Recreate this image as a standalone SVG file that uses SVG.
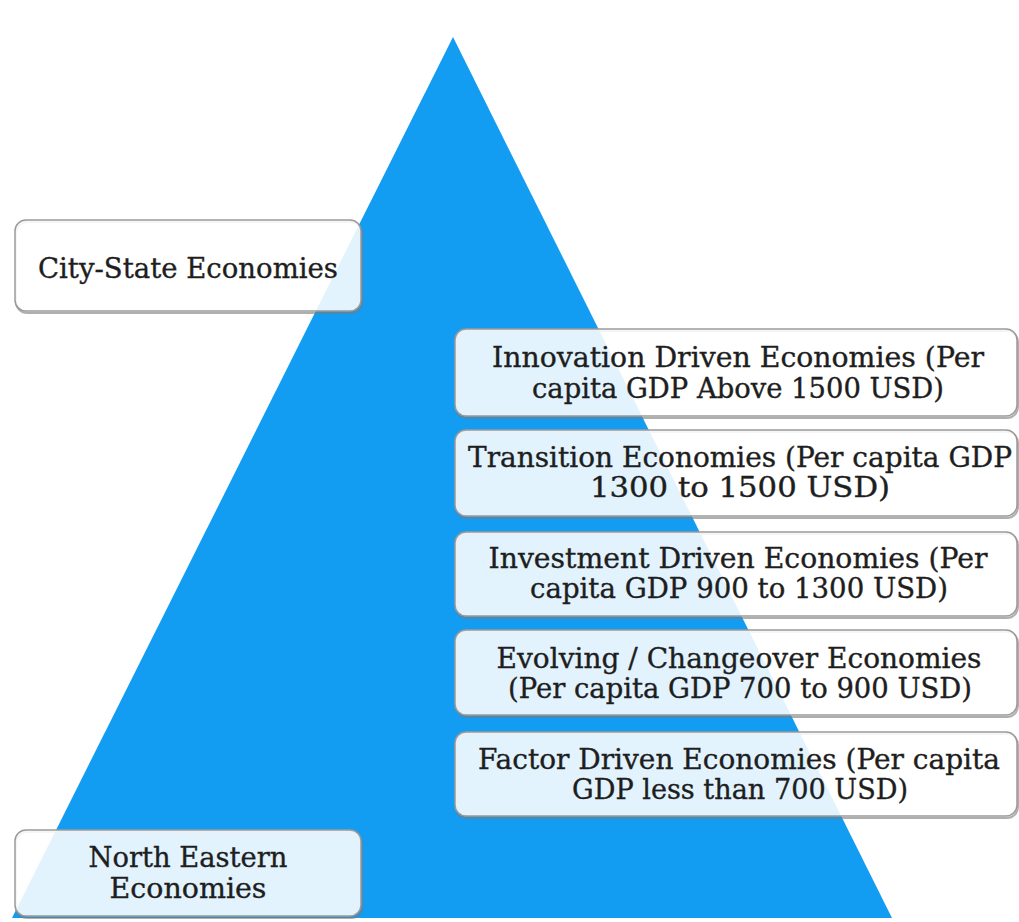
<svg xmlns="http://www.w3.org/2000/svg" width="1019" height="922" viewBox="0 0 1019 922">
  <defs>
    <style>
      .box { fill: #ffffff; fill-opacity: 0.88; stroke: #9a9a9a; stroke-width: 1.5; }
      .shadow { fill: none; stroke: #7a7a7a; stroke-width: 2; stroke-opacity: 0.6; }
      .lbl { font-family: "DejaVu Serif", "Liberation Serif", serif; font-size: 27px; fill: #1e1e1e; stroke: #1e1e1e; stroke-width: 0.35; text-anchor: middle; }
    </style>
  </defs>
  <rect width="1019" height="922" fill="#ffffff"/>
  <g id="pyramid">
    <polygon points="453,37 12,918 892,918" fill="#129cf2"/>
  </g>
  <g id="connectors"></g>

  <g id="city-state">
    <rect class="shadow" x="16" y="222" width="346" height="91" rx="11"/>
    <rect class="box" x="15" y="220" width="346" height="91" rx="11"/>
    <text class="lbl" x="188" y="278" textLength="300" lengthAdjust="spacingAndGlyphs">City-State Economies</text>
  </g>

  <g id="innovation">
    <rect class="shadow" x="456" y="331" width="562" height="87" rx="11"/>
    <rect class="box" x="455" y="329" width="562" height="87" rx="11"/>
    <text class="lbl" x="738" y="367" textLength="492" lengthAdjust="spacingAndGlyphs">Innovation Driven Economies (Per</text>
    <text class="lbl" x="738" y="398" textLength="412" lengthAdjust="spacingAndGlyphs">capita GDP Above 1500 USD)</text>
  </g>

  <g id="transition">
    <rect class="shadow" x="456" y="432" width="562" height="86" rx="11"/>
    <rect class="box" x="455" y="430" width="562" height="86" rx="11"/>
    <text class="lbl" x="740" y="467" textLength="544" lengthAdjust="spacingAndGlyphs">Transition Economies (Per capita GDP</text>
    <text class="lbl" x="740" y="497" textLength="300" lengthAdjust="spacingAndGlyphs">1300 to 1500 USD)</text>
  </g>

  <g id="investment">
    <rect class="shadow" x="456" y="534" width="562" height="84" rx="11"/>
    <rect class="box" x="455" y="532" width="562" height="84" rx="11"/>
    <text class="lbl" x="738" y="568" textLength="499" lengthAdjust="spacingAndGlyphs">Investment Driven Economies (Per</text>
    <text class="lbl" x="739" y="598" textLength="418" lengthAdjust="spacingAndGlyphs">capita GDP 900 to 1300 USD)</text>
  </g>

  <g id="evolving">
    <rect class="shadow" x="456" y="632" width="562" height="85" rx="11"/>
    <rect class="box" x="455" y="630" width="562" height="85" rx="11"/>
    <text class="lbl" x="739" y="668" textLength="485" lengthAdjust="spacingAndGlyphs">Evolving / Changeover Economies</text>
    <text class="lbl" x="740" y="698" textLength="464" lengthAdjust="spacingAndGlyphs">(Per capita GDP 700 to 900 USD)</text>
  </g>

  <g id="factor">
    <rect class="shadow" x="456" y="734" width="562" height="84" rx="11"/>
    <rect class="box" x="455" y="732" width="562" height="84" rx="11"/>
    <text class="lbl" x="739" y="769" textLength="522" lengthAdjust="spacingAndGlyphs">Factor Driven Economies (Per capita</text>
    <text class="lbl" x="740" y="799" textLength="336" lengthAdjust="spacingAndGlyphs">GDP less than 700 USD)</text>
  </g>

  <g id="north-eastern">
    <rect class="shadow" x="16" y="832" width="346" height="86" rx="11"/>
    <rect class="box" x="15" y="830" width="346" height="86" rx="11"/>
    <text class="lbl" x="188" y="867" textLength="199" lengthAdjust="spacingAndGlyphs">North Eastern</text>
    <text class="lbl" x="188" y="898" textLength="157" lengthAdjust="spacingAndGlyphs">Economies</text>
  </g>
</svg>
